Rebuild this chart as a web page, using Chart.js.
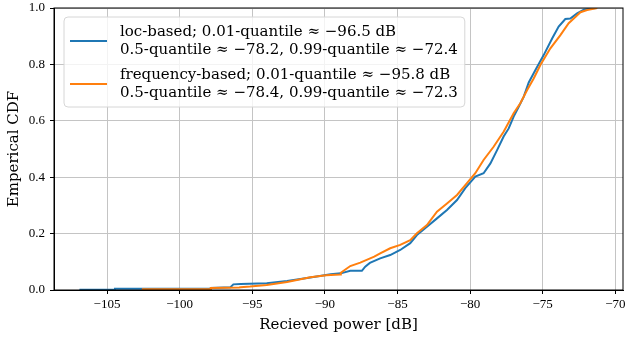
<!DOCTYPE html>
<html lang="en">
  <head>
    <meta charset="UTF-8" />
    <title>Empirical CDF of received power</title>
    <script src="https://cdn.jsdelivr.net/npm/chart.js"></script>
    <style>
      html, body { margin: 0; padding: 0; background: #fff; }
      #wrap { width: 626px; height: 339px; }
    </style>
  </head>
  <body>
    <div id="wrap"><canvas id="cdfChart" width="626" height="339"></canvas></div>
    <script>
      // received power [dB] and CDF value
      const locPower = [-106.9, -104.5, -104.45, -97.9, -97.85, -96.5, -96.3, -95.8, -94.0, -92.6,
        -91.0, -89.6, -88.9, -88.25, -87.45, -87.22, -86.9, -86.19, -85.5, -84.81, -84.12,
        -83.66, -82.97, -82.28, -81.59, -80.9, -80.33, -79.64, -79.07, -78.6, -78.14, -77.69,
        -77.34, -77.0, -76.65, -76.31, -75.96, -75.5, -74.93, -74.35, -73.9, -73.44, -73.1,
        -72.63, -72.17, -71.7, -71.25];
      const locCdf = [0.001, 0.001, 0.004, 0.004, 0.007, 0.010, 0.020, 0.021, 0.024, 0.032,
        0.044, 0.056, 0.059, 0.068, 0.068, 0.083, 0.096, 0.112, 0.124, 0.142, 0.166,
        0.195, 0.224, 0.254, 0.284, 0.319, 0.361, 0.402, 0.414, 0.449, 0.496, 0.544,
        0.573, 0.615, 0.650, 0.685, 0.736, 0.780, 0.833, 0.892, 0.934, 0.961, 0.963,
        0.981, 0.994, 0.998, 1.0];

      const freqPower = [-102.6, -97.9, -97.85, -95.9, -95.8, -95.15, -94.0, -92.6, -91.0, -89.9,
        -88.95, -88.9, -88.25, -87.56, -86.6, -86.19, -85.5, -84.81, -84.12, -83.66, -82.97,
        -82.28, -81.59, -80.9, -80.2, -79.64, -79.07, -78.38, -77.69, -77.0, -76.54, -76.07,
        -75.62, -75.16, -74.47, -73.78, -73.21, -72.86, -72.4, -71.94, -71.25];
      const freqCdf = [0.003, 0.003, 0.007, 0.009, 0.010, 0.012, 0.018, 0.028, 0.045, 0.052,
        0.055, 0.061, 0.085, 0.097, 0.118, 0.130, 0.148, 0.160, 0.177, 0.201, 0.230,
        0.278, 0.307, 0.337, 0.380, 0.414, 0.461, 0.508, 0.561, 0.627, 0.662, 0.709,
        0.750, 0.798, 0.857, 0.904, 0.946, 0.963, 0.985, 0.993, 1.0];

      const xTicks = [-105, -100, -95, -90, -85, -80, -75, -70];
      const yTicks = [0, 0.2, 0.4, 0.6, 0.8, 1.0];

      const legendText = [
        ["loc-based; 0.01-quantile \u2248 \u221296.5 dB", "0.5-quantile \u2248 \u221278.2, 0.99-quantile \u2248 \u221272.4"],
        ["frequency-based; 0.01-quantile \u2248 \u221295.8 dB", "0.5-quantile \u2248 \u221278.4, 0.99-quantile \u2248 \u221272.3"],
      ];
      const seriesColors = ["#1f77b4", "#ff7f0e"];

      const serif = '"Liberation Serif", "DejaVu Serif", serif';
      const wideSerif = '"DejaVu Serif", "Liberation Serif", serif';
      const toPoints = (xs, ys) => xs.map((x, i) => ({ x: x, y: ys[i] }));
      const minusFmt = (v) => (v < 0 ? "\u2212" + Math.abs(v) : String(v));

      // multi-line legend box, drawn like the matplotlib one
      const cdfLegend = {
        id: "cdfLegend",
        afterDatasetsDraw(chart) {
          const { ctx, chartArea } = chart;
          const x0 = chartArea.left + 10;
          const y0 = chartArea.top + 9;
          ctx.save();
          ctx.font = "15px " + wideSerif;
          let w = 0;
          legendText.forEach((lines) =>
            lines.forEach((t) => (w = Math.max(w, ctx.measureText(t).width)))
          );
          const boxW = 56 + w + 7;
          const boxH = 90;
          ctx.beginPath();
          ctx.roundRect(x0, y0, boxW, boxH, 4);
          ctx.fillStyle = "rgba(255,255,255,0.8)";
          ctx.fill();
          ctx.strokeStyle = "#d6d6d6";
          ctx.lineWidth = 1;
          ctx.stroke();

          ctx.textBaseline = "middle";
          ctx.fillStyle = "#000";
          legendText.forEach((lines, i) => {
            const top = y0 + 15 + i * 43;
            ctx.strokeStyle = seriesColors[i];
            ctx.lineWidth = 2;
            ctx.beginPath();
            ctx.moveTo(x0 + 6, top + 9);
            ctx.lineTo(x0 + 43, top + 9);
            ctx.stroke();
            lines.forEach((t, j) => ctx.fillText(t, x0 + 56, top + j * 18));
          });
          ctx.restore();
        },
        afterDraw(chart) {
          const { ctx, chartArea } = chart;
          ctx.save();
          ctx.strokeStyle = "#000";
          ctx.lineWidth = 1;
          ctx.strokeRect(chartArea.left, chartArea.top, chartArea.width, chartArea.height);
          ctx.restore();
        },
      };

      const gridStyle = {
        color: "#c4c4c4",
        lineWidth: 1,
        tickColor: "#000",
        tickLength: 4,
      };

      new Chart(document.getElementById("cdfChart"), {
        type: "line",
        data: {
          datasets: [
            {
              label: "loc-based",
              data: toPoints(locPower, locCdf),
              borderColor: seriesColors[0],
              borderWidth: 2,
              pointRadius: 0,
              tension: 0,
              order: 1,
            },
            {
              label: "frequency-based",
              data: toPoints(freqPower, freqCdf),
              borderColor: seriesColors[1],
              borderWidth: 2,
              pointRadius: 0,
              tension: 0,
              order: 0,
            },
          ],
        },
        options: {
          responsive: false,
          animation: false,
          devicePixelRatio: 1,
          layout: { padding: { top: 8, right: 3, left: 0, bottom: 0 } },
          plugins: { legend: { display: false }, tooltip: { enabled: false } },
          scales: {
            x: {
              type: "linear",
              min: -108.65,
              max: -69.47,
              afterBuildTicks: (s) => { s.ticks = xTicks.map((v) => ({ value: v })); },
              afterFit: (s) => { s.height = 49; s.paddingLeft = 0; s.paddingRight = 0; },
              ticks: { callback: minusFmt, color: "#000", font: { family: serif, size: 13 }, padding: 3, maxRotation: 0 },
              grid: gridStyle,
              border: { color: "#000", width: 1 },
              title: { display: true, text: "Recieved power [dB]", color: "#000", font: { family: wideSerif, size: 15 }, padding: { top: 4, bottom: 5 } },
            },
            y: {
              min: 0,
              max: 1,
              afterBuildTicks: (s) => { s.ticks = yTicks.map((v) => ({ value: v })); },
              afterFit: (s) => { s.width = 54; s.paddingTop = 0; s.paddingBottom = 0; },
              ticks: { callback: (v) => v.toFixed(1), color: "#000", font: { family: serif, size: 13 }, padding: 5 },
              grid: gridStyle,
              border: { color: "#000", width: 1 },
              title: { display: true, text: "Emperical CDF", color: "#000", font: { family: wideSerif, size: 15 }, padding: { top: 5, bottom: 4 } },
            },
          },
        },
        plugins: [cdfLegend],
      });
    </script>
  </body>
</html>
